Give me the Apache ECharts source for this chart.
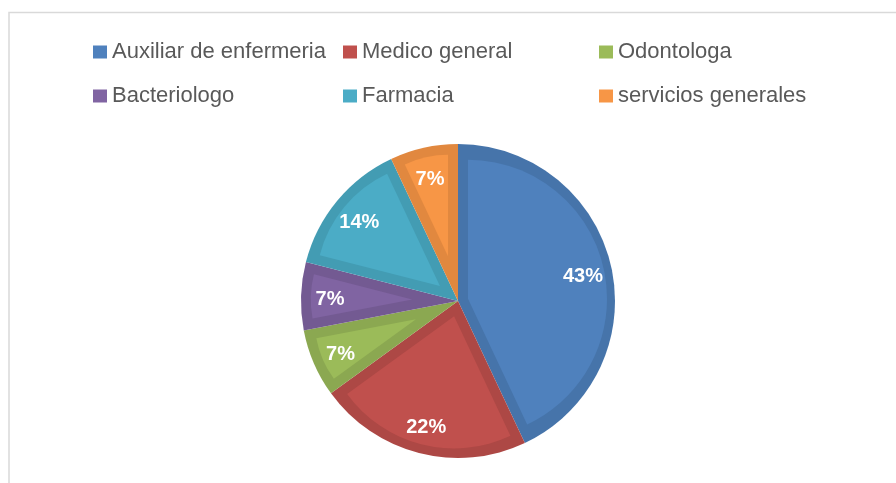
<!DOCTYPE html>
<html>
<head>
    <meta charset="utf-8">
    <title>pie</title>
    <script src="https://cdn.jsdelivr.net/npm/echarts@6/dist/echarts.min.js"></script>
</head>
<body style="margin:0;background:#fff;">
<div id="main" style="width: 896px; height: 483px;"></div>
<script type="text/javascript">
// datos
var categorias = ['Auxiliar de enfermeria', 'Medico general', 'Odontologa', 'Bacteriologo', 'Farmacia', 'servicios generales'];
var valores = [43, 22, 7, 7, 14, 7];
var rellenos = ['#4F81BD', '#C0504D', '#9BBB59', '#8064A2', '#4BACC6', '#F79646'];
var bordes = ['#4674AA', '#AD4845', '#8BA851', '#735A92', '#439CB3', '#E1883F'];

var cx = 458, cy = 301, R = 157, banda = 10;
var total = valores.reduce(function (a, b) { return a + b; }, 0);

var myChart = echarts.init(document.getElementById('main'));

function datosPie(colorFn) {
    return valores.map(function (v, j) {
        return { name: categorias[j], value: v, itemStyle: { color: colorFn(j) } };
    });
}

// capa oscura (borde)
var series = [{
    type: 'pie',
    center: [cx, cy],
    radius: R,
    startAngle: 90,
    silent: true,
    label: { show: false },
    labelLine: { show: false },
    itemStyle: { borderWidth: 0 },
    data: datosPie(function (j) { return bordes[j]; })
}];

// capa clara, un sector por serie, desplazado hacia dentro
var acc = 0;
valores.forEach(function (v, i) {
    var a0 = acc / total * 2 * Math.PI;
    acc += v;
    var a1 = acc / total * 2 * Math.PI;
    var mid = (a0 + a1) / 2, half = (a1 - a0) / 2;
    var s = banda / Math.sin(half);
    var r = R - banda - s * Math.cos(half / 2);
    series.push({
        type: 'pie',
        center: [cx + s * Math.sin(mid), cy - s * Math.cos(mid)],
        radius: r,
        startAngle: 90,
        silent: true,
        label: { show: false },
        labelLine: { show: false },
        itemStyle: { borderWidth: 0 },
        data: datosPie(function (j) { return j === i ? rellenos[i] : 'transparent'; })
    });
});

// etiquetas
series.push({
    type: 'pie',
    center: [cx, cy + 3],
    radius: [93, R],
    startAngle: 90,
    silent: true,
    itemStyle: { color: 'transparent', borderWidth: 0 },
    label: {
        show: true,
        position: 'inside',
        formatter: '{c}%',
        color: '#fff',
        fontSize: 20,
        fontWeight: 'bold',
        fontFamily: 'Liberation Sans'
    },
    labelLine: { show: false },
    data: datosPie(function () { return 'transparent'; })
});

function leyenda(left, idx) {
    return {
        orient: 'vertical',
        left: left,
        top: 36,
        itemWidth: 14,
        itemHeight: 13,
        itemGap: 22,
        selectedMode: false,
        icon: 'rect',
        textStyle: { color: '#595959', fontSize: 22, lineHeight: 22, fontFamily: 'Liberation Sans' },
        data: idx.map(function (j) { return { name: categorias[j], itemStyle: { color: rellenos[j] } }; })
    };
}

var option = {
    animation: false,
    backgroundColor: '#fff',
    graphic: [{
        type: 'rect',
        shape: { x: 9, y: 12.5, width: 1000, height: 1000 },
        style: { fill: 'none', stroke: '#D9D9D9', lineWidth: 1.5 }
    }],
    legend: [leyenda(88, [0, 3]), leyenda(338, [1, 4]), leyenda(594, [2, 5])],
    series: series
};
myChart.setOption(option);
</script>
</body>
</html>
